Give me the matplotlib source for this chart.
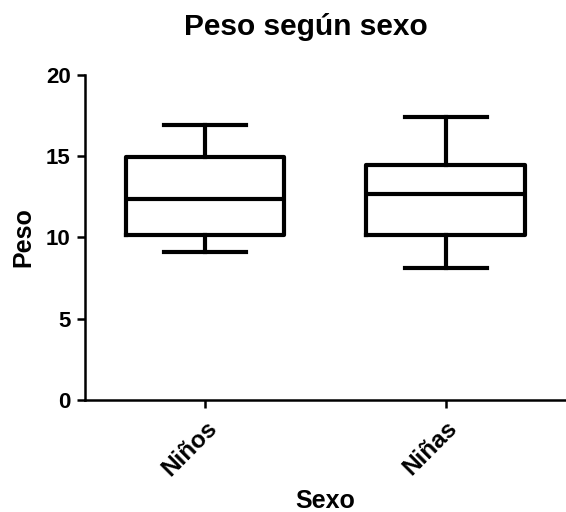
import matplotlib.pyplot as plt

# === Datos ===
categorias = ['Niños', 'Niñas']
minimos = [9.1, 8.1]
q1 = [10.15, 10.15]
medianas = [12.35, 12.65]
q3 = [14.95, 14.45]
maximos = [16.9, 17.4]

plt.rcParams['font.family'] = ['Liberation Sans', 'DejaVu Sans']
plt.rcParams['font.weight'] = 'bold'

fig = plt.figure(figsize=(5.66, 5.12), dpi=100)
ax = fig.add_axes([0.1496, 0.219, 0.8504, 0.6345])

stats = []
for i, nombre in enumerate(categorias):
    stats.append({'label': nombre, 'whislo': minimos[i], 'q1': q1[i],
                  'med': medianas[i], 'q3': q3[i], 'whishi': maximos[i]})

lw = 3.0
ax.bxp(stats, positions=[0, 1], widths=0.66, capwidths=0.34, showfliers=False,
       boxprops=dict(color='black', linewidth=lw),
       medianprops=dict(color='black', linewidth=lw),
       whiskerprops=dict(color='black', linewidth=lw),
       capprops=dict(color='black', linewidth=lw))

ax.set_xlim(-0.5, 1.5)
ax.set_ylim(0, 20)
ax.set_yticks([0, 5, 10, 15, 20])
ax.set_xticks([0, 1])
ax.set_xticklabels(categorias, rotation=45, ha='right', rotation_mode='anchor')

for s in ['top', 'right']:
    ax.spines[s].set_visible(False)
for s in ['left', 'bottom']:
    ax.spines[s].set_linewidth(1.8)
ax.tick_params(width=1.8, length=6, pad=4)
ax.tick_params(axis='y', labelsize=16)
ax.tick_params(axis='x', labelsize=17.5, pad=6)

ax.set_ylabel('Peso', fontsize=18, fontweight='bold', labelpad=8)
ax.set_xlabel('Sexo', fontsize=18, fontweight='bold', labelpad=6)
fig.suptitle('Peso según sexo', fontsize=21.5, fontweight='bold', x=0.54, y=0.975)

fig.savefig('out.png', dpi=100)
